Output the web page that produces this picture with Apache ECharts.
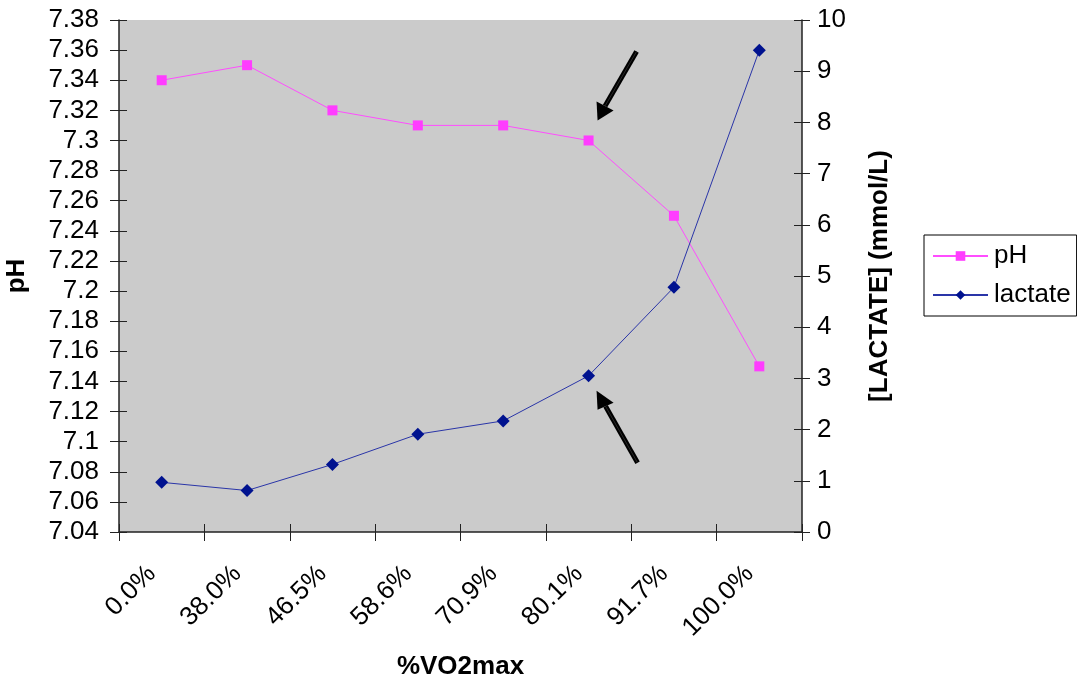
<!DOCTYPE html>
<html>
<head>
<meta charset="utf-8">
<script src="https://cdn.jsdelivr.net/npm/echarts@6/dist/echarts.min.js"></script>
<style>
  html, body { margin: 0; padding: 0; background: #ffffff; }
  #chart { width: 1077px; height: 684px; }
</style>
</head>
<body>
<div id="chart"></div>
<script>
// Exercise intensity categories (%VO2max)
const categories = ['0.0%', '38.0%', '46.5%', '58.6%', '70.9%', '80.1%', '91.7%', '100.0%'];
// Blood pH at each intensity
const phValues = [7.34, 7.35, 7.32, 7.31, 7.31, 7.30, 7.25, 7.15];
// Blood lactate concentration (mmol/L)
const lactateValues = [0.97, 0.81, 1.32, 1.91, 2.17, 3.05, 4.78, 9.41];

const FONT = '"Liberation Sans", Arial, sans-serif';
const AXIS_COLOR = '#222222';
const FS = 26;

const chart = echarts.init(document.getElementById('chart'), null, { renderer: 'canvas' });

const option = {
  animation: false,
  backgroundColor: '#ffffff',
  textStyle: { fontFamily: FONT },
  grid: {
    left: 119, right: 275, top: 20, bottom: 152,
    containLabel: false,
    outerBoundsMode: 'none',
    show: true, backgroundColor: '#cbcbcb', borderWidth: 0
  },
  legend: {
    orient: 'vertical',
    left: 924, top: 235,
    padding: [8, 6, 8, 8],
    itemGap: 13,
    itemWidth: 55,
    itemHeight: 12,
    borderColor: '#000000',
    borderWidth: 1,
    backgroundColor: '#ffffff',
    textStyle: { fontFamily: FONT, fontSize: FS, color: '#000000', padding: [0, 0, 0, 1] },
    data: ['pH', 'lactate']
  },
  xAxis: [
    {
      type: 'category',
      data: categories,
      boundaryGap: true,
      position: 'bottom',
      name: '%VO2max',
      nameLocation: 'middle',
      nameGap: 122,
      nameTextStyle: { fontFamily: FONT, fontSize: FS, fontWeight: 'bold', color: '#000000' },
      axisLine: { show: true, lineStyle: { color: AXIS_COLOR, width: 1.5 } },
      axisTick: { show: true, inside: false, length: 9, lineStyle: { color: AXIS_COLOR } },
      axisLabel: { rotate: 45, margin: 28, padding: [0, 14, 0, 0],
        fontFamily: FONT, fontSize: FS, color: '#000000' },
      splitLine: { show: false }
    },
    {
      // inner half of the crossing tick marks
      type: 'category',
      data: categories,
      boundaryGap: true,
      position: 'bottom',
      axisLine: { show: false },
      axisTick: { show: true, inside: true, length: 8, lineStyle: { color: AXIS_COLOR } },
      axisLabel: { show: false },
      splitLine: { show: false }
    }
  ],
  yAxis: [
    {
      type: 'value',
      min: 7.04, max: 7.38, interval: 0.02,
      position: 'left',
      name: 'pH',
      nameLocation: 'middle',
      nameRotate: 90,
      nameGap: 89,
      nameTextStyle: { fontFamily: FONT, fontSize: FS, fontWeight: 'bold', color: '#000000' },
      axisLine: { show: true, lineStyle: { color: AXIS_COLOR, width: 1.5 } },
      axisTick: { show: true, inside: false, length: 9, lineStyle: { color: AXIS_COLOR } },
      axisLabel: { margin: 20, fontFamily: FONT, fontSize: FS, color: '#000000',
        formatter: v => String(parseFloat(v.toFixed(2))) },
      splitLine: { show: false }
    },
    {
      type: 'value',
      min: 0, max: 10, interval: 1,
      position: 'right',
      name: '[LACTATE] (mmol/L)',
      nameLocation: 'middle',
      nameRotate: 90,
      nameGap: 65,
      nameTextStyle: { fontFamily: FONT, fontSize: FS, fontWeight: 'bold', color: '#000000' },
      axisLine: { show: true, lineStyle: { color: AXIS_COLOR, width: 1.5 } },
      axisTick: { show: true, inside: false, length: 8, lineStyle: { color: AXIS_COLOR } },
      axisLabel: { margin: 15, fontFamily: FONT, fontSize: FS, color: '#000000' },
      splitLine: { show: false }
    },
    {
      // inner half of the crossing ticks on the left axis
      type: 'value',
      min: 7.04, max: 7.38, interval: 0.02,
      position: 'left',
      axisLine: { show: false },
      axisTick: { show: true, inside: true, length: 8, lineStyle: { color: AXIS_COLOR } },
      axisLabel: { show: false },
      splitLine: { show: false }
    },
    {
      // inner half of the crossing ticks on the right axis
      type: 'value',
      min: 0, max: 10, interval: 1,
      position: 'right',
      axisLine: { show: false },
      axisTick: { show: true, inside: true, length: 8, lineStyle: { color: AXIS_COLOR } },
      axisLabel: { show: false },
      splitLine: { show: false }
    }
  ],
  series: [
    {
      name: 'pH',
      type: 'line',
      xAxisIndex: 0,
      yAxisIndex: 0,
      data: phValues,
      symbol: 'rect',
      symbolSize: 10,
      lineStyle: { color: '#ff4dff', width: 1 },
      itemStyle: { color: '#ff3dff' },
      z: 3
    },
    {
      name: 'lactate',
      type: 'line',
      xAxisIndex: 0,
      yAxisIndex: 1,
      data: lactateValues,
      symbol: 'diamond',
      symbolSize: 13,
      lineStyle: { color: '#2a35a8', width: 1 },
      itemStyle: { color: '#00128f' },
      z: 4
    }
  ]
};

chart.setOption(option);

// Annotation arrows pointing at the 80.1% readings
function arrow(tip, tail, headBase1, headBase2) {
  const mid = [(headBase1[0] + headBase2[0]) / 2, (headBase1[1] + headBase2[1]) / 2];
  return [
    { type: 'line', shape: { x1: tail[0], y1: tail[1], x2: mid[0], y2: mid[1] },
      style: { stroke: '#000000', lineWidth: 5 }, z: 10 },
    { type: 'line', shape: { x1: tail[0], y1: tail[1], x2: mid[0], y2: mid[1] },
      style: { stroke: '#2a2a2a', lineWidth: 1 }, z: 11 },
    { type: 'polygon', shape: { points: [tip, headBase1, headBase2] },
      style: { fill: '#000000' }, z: 10 }
  ];
}

const idx = 5;
const phPt = chart.convertToPixel({ xAxisIndex: 0, yAxisIndex: 0 }, [idx, phValues[idx]]);
const laPt = chart.convertToPixel({ xAxisIndex: 0, yAxisIndex: 1 }, [idx, lactateValues[idx]]);

const a1tip = [phPt[0] + 9, phPt[1] - 20];
const a2tip = [laPt[0] + 8, laPt[1] + 15];

chart.setOption({
  graphic: [].concat(
    arrow(a1tip, [a1tip[0] + 39, a1tip[1] - 69], [a1tip[0] - 1, a1tip[1] - 19], [a1tip[0] + 16, a1tip[1] - 10]),
    arrow(a2tip, [a2tip[0] + 41, a2tip[1] + 72], [a2tip[0] + 1, a2tip[1] + 19], [a2tip[0] + 17, a2tip[1] + 12])
  )
});
</script>
</body>
</html>
